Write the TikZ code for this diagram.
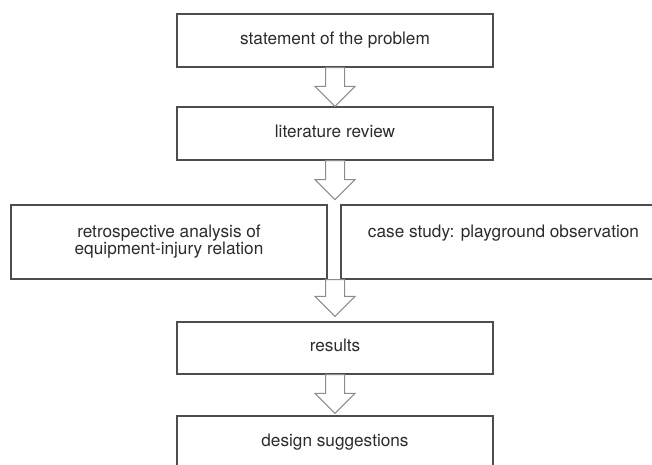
\documentclass[tikz,border=0pt]{standalone}
\usepackage{fontspec}
\setmainfont{TeX Gyre Heros}
\usetikzlibrary{calc}
\definecolor{boxgray}{HTML}{4D4D4D}
\definecolor{arrowgray}{HTML}{8C8C8C}
\definecolor{textgray}{HTML}{2B2B2B}
\newcommand\blockarr[2]{%
  \draw[arr] ($(#1)+(-9.5,0)$) -- ($(#2)+(-9.5,-20)$) -- ($(#2)+(-20,-20)$) -- (#2)
    -- ($(#2)+(20,-20)$) -- ($(#2)+(9.5,-20)$) -- ($(#1)+(9.5,0)$) -- cycle;}
\begin{document}
\begin{tikzpicture}[x=1pt,y=-1pt,
  basebox/.style={draw=boxgray,line width=1.2pt,inner sep=0pt,text=textgray,
    font=\fontsize{17.2}{17}\selectfont},
  box/.style={basebox,minimum width=316pt,minimum height=53pt,text height=12.4pt,text depth=5pt},
  arr/.style={draw=arrowgray,line width=1pt,fill=white,line join=miter}]
\useasboundingbox (0,0) rectangle (652,464);
\clip (0,0) rectangle (652,464);
\node[box] (top) at (335,40.5) {statement of the problem};
\node[box] (lit) at (335,133.5) {literature review};
\node[basebox,minimum width=316pt,minimum height=74pt,align=center] (lret) at (169,242)
  {retrospective analysis of\\equipment-injury relation};
\node[basebox,minimum width=325pt,minimum height=74pt,text height=12.4pt,text depth=22.4pt] (rcase) at (503.5,242)
  {case study: playground observation};
\node[box,minimum height=52pt] (res) at (335,348) {results};
\node[box] (des) at (335,442.5) {design suggestions};
\coordinate (t2) at ($(lit.south)+(0,39)$);
\coordinate (s3) at (lit.south |- lret.south);
\coordinate (t3) at ($(res.north)+(0,-5)$);
\coordinate (t4) at ($(des.north)+(0,-2)$);
\blockarr{top.south}{lit.north}
\blockarr{lit.south}{t2}
\blockarr{s3}{t3}
\blockarr{res.south}{t4}
\end{tikzpicture}
\end{document}
